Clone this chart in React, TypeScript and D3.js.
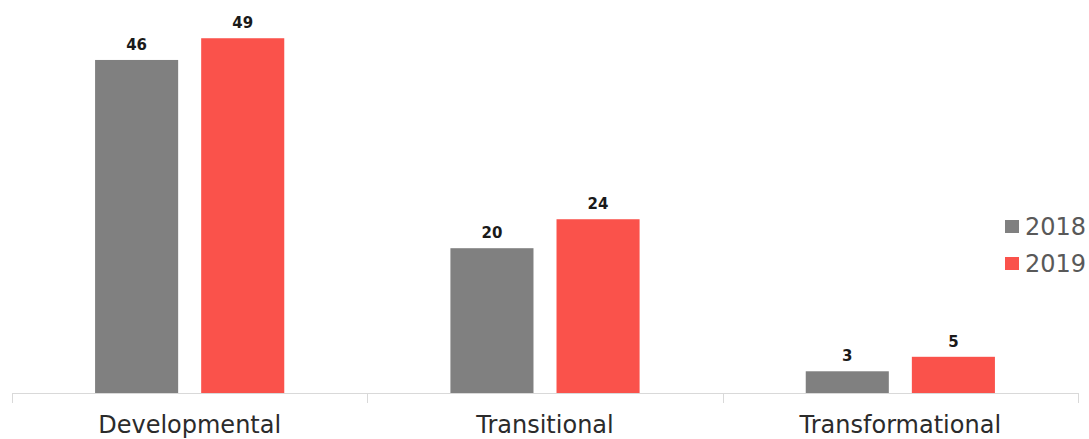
import React from "react";
import * as d3 from "d3";

const categories = ["Developmental", "Transitional", "Transformational"];
const seriesNames = ["2018", "2019"];
const values2018 = [46, 20, 3];
const values2019 = [49, 24, 5];
const colors = ["#808080", "#FA524B"];

export default function App() {
  const W = 1089, H = 439;
  const base = 393;
  const x = d3.scaleBand<string>().domain(categories).range([12, 1078]).paddingInner(0).paddingOuter(0);
  const inner = d3.scaleBand<string>().domain(seriesNames).range([0, x.bandwidth()]).paddingInner(0.217).paddingOuter(0.783);
  const y = d3.scaleLinear().domain([0, 50]).range([base, 31]);
  const series = [values2018, values2019];
  const font = "'DejaVu Sans', Verdana, sans-serif";
  return (
    <div style={{ position: "absolute", left: 0, top: 0 }}>
      <svg width={W} height={H} style={{ display: "block" }}>
        <rect width={W} height={H} fill="#fff" />
        <line x1={12} x2={1078} y1={base + 0.5} y2={base + 0.5} stroke="#d9d9d9" strokeWidth={1} />
        {[0, 1, 2, 3].map(i => {
          const xx = 12 + i * x.step();
          return <line key={i} x1={Math.round(xx) + 0.5} x2={Math.round(xx) + 0.5} y1={base} y2={base + 10} stroke="#d9d9d9" />;
        })}
        {categories.map((c, ci) => (
          <g key={c}>
            {seriesNames.map((s, si) => {
              const v = series[si][ci];
              const bx = (x(c) as number) + (inner(s) as number);
              return (
                <g key={s}>
                  <rect x={bx} y={y(v)} width={inner.bandwidth()} height={base - y(v)} fill={colors[si]} />
                  <text x={bx + inner.bandwidth() / 2} y={y(v) - 10} textAnchor="middle" fontFamily={font} fontWeight="bold" fontSize={15} fill="#1a1a1a">{v}</text>
                </g>
              );
            })}
            <text x={(x(c) as number) + x.bandwidth() / 2} y={433} textAnchor="middle" fontFamily={font} fontSize={24} fill="#2b2b2b">{c}</text>
          </g>
        ))}
        {seriesNames.map((s, si) => (
          <g key={s}>
            <rect x={1005} y={220 + si * 37} width={14} height={13} fill={colors[si]} />
            <text x={1025} y={235 + si * 37} fontFamily={font} fontSize={24} fill="#595959">{s}</text>
          </g>
        ))}
      </svg>
    </div>
  );
}
